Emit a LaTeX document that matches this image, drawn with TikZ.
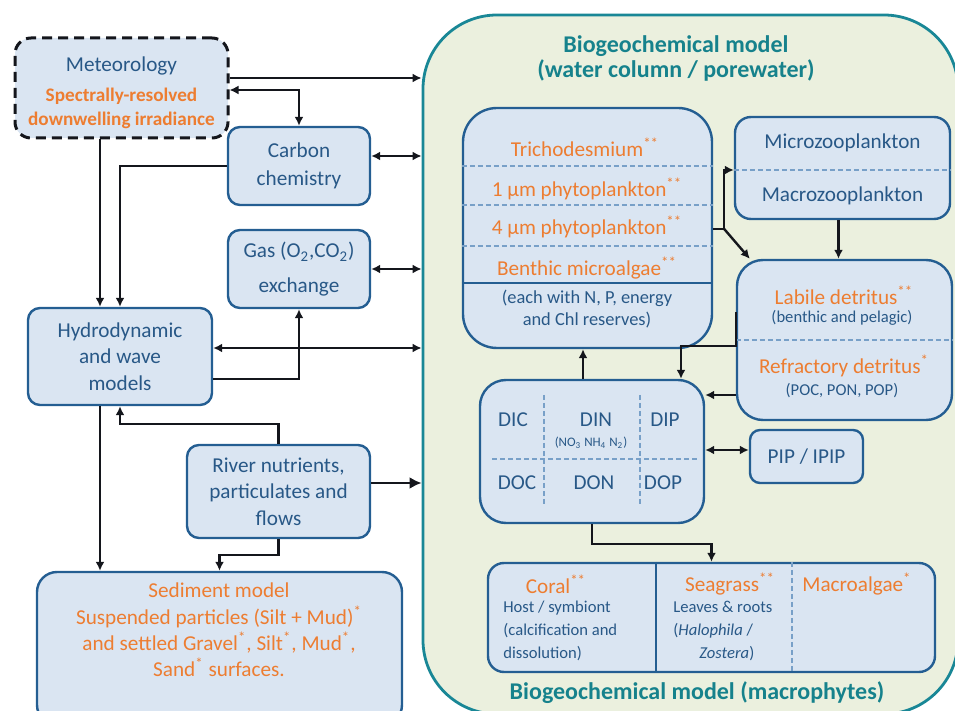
\documentclass[tikz,border=0pt]{standalone}
\usepackage{fontspec}
\setmainfont{Carlito}
\usepackage{tikz}
\usetikzlibrary{arrows.meta,positioning,calc}
\definecolor{ink}{RGB}{20,22,28}
\definecolor{bline}{RGB}{36,94,146}
\definecolor{cell}{RGB}{218,229,242}
\definecolor{txt}{RGB}{40,88,135}
\definecolor{org}{RGB}{237,125,49}
\definecolor{tealedge}{RGB}{25,135,150}
\definecolor{tealtxt}{RGB}{22,130,140}
\definecolor{bgfill}{RGB}{235,240,222}
\definecolor{sep}{RGB}{120,160,200}
\newcommand{\sstar}[1]{\textsuperscript{#1}}

\begin{document}
\begin{tikzpicture}[x=0.5pt,y=-0.5pt,font=\fontsize{10.6}{13.2}\selectfont,
 box/.style={draw=bline,line width=1.2pt,fill=cell,rounded corners=6pt,align=center,text=txt,inner sep=1pt},
 dashbox/.style={draw=ink,line width=1.5pt,dash pattern=on 5pt off 3pt,fill=cell,rounded corners=8pt,align=center,text=txt,inner sep=1pt},
 cont/.style={draw=tealedge,line width=1.4pt,fill=bgfill,rounded corners=37pt},
 ttl/.style={text=tealtxt,font=\fontsize{12}{12.5}\selectfont\bfseries,align=center},
 lbl/.style={text=txt,inner sep=0pt},
 hot/.style={text=org,inner sep=0pt},
 sml/.style={text=txt,font=\fontsize{8.3}{11.5}\selectfont,inner sep=0pt},
 sepl/.style={draw=sep,line width=0.6pt,dash pattern=on 2.5pt off 1.5pt},
 arr/.style={draw=ink,line width=1.2pt,-{Latex[length=4.5pt,width=4.5pt]}},
 arr2/.style={draw=ink,line width=1.2pt,{Latex[length=4.5pt,width=4.5pt]}-{Latex[length=4.5pt,width=4.5pt]}}]
 \useasboundingbox (0,0) rectangle (955,711);
 \clip (0,0) rectangle (955,711);

 % biogeochemical container
 \node[cont,minimum width=267.5pt,minimum height=349.5pt] (bgc) at (690.5,364.5) {};
 \node[ttl] (bgctop) at (676,58) {Biogeochemical model\\(water column / porewater)};
 \node[ttl] (bgcbot) at (697,693) {Biogeochemical model (macrophytes)};

 % forcing side
 \node[dashbox,minimum width=106.5pt,minimum height=50pt] (met) at (121.5,88) {};
 \node[lbl,align=center,font=\fontsize{10.6}{12}\selectfont] (mettxt) at (121.5,93)
   {Meteorology\\[3pt]\textcolor{org}{\fontsize{9.6}{12}\selectfont\bfseries Spectrally-resolved}\\\textcolor{org}{\fontsize{9.6}{12}\selectfont\bfseries downwelling irradiance}};
 \node[box,minimum width=71pt,minimum height=39pt] (cc) at (299,166) {Carbon\\[1pt]chemistry};
 \node[box,minimum width=71pt,minimum height=39pt] (gas) at (299,269) {Gas (O\textsubscript{2},CO\textsubscript{2})\\[4pt]exchange};
 \node[box,minimum width=92pt,minimum height=48.5pt] (hyd) at (120,356.5) {Hydrodynamic\\and wave\\models};
 \node[box,minimum width=91.5pt,minimum height=46.5pt] (riv) at (278.5,491.5) {River nutrients,\\particulates and\\flows};
 \node[box,rounded corners=10pt,minimum width=182.5pt,minimum height=76.5pt] (sed) at (219.5,648.5) {};
 \node[hot,align=center] (sedtxt) at (219,630) {Sediment model\\Suspended particles (Silt + Mud)\sstar{*}\\and settled Gravel\sstar{*}, Silt\sstar{*}, Mud\sstar{*},\\Sand\sstar{*} surfaces.};

 % phytoplankton
 \node[box,rounded corners=17pt,minimum width=124.5pt,minimum height=120pt] (phy) at (587.5,228) {};
 \foreach \y in {166,205,246} \draw[sepl] (phy.west |- 0,\y) -- (phy.east |- 0,\y);
 \draw[bline,line width=1.2pt] (phy.west |- 0,283) -- (phy.east |- 0,283);
 \node[hot] (tri) at (585,147) {Trichodesmium\sstar{**}};
 \node[hot] (p1) at (587,189) {1 µm phytoplankton\sstar{**}};
 \node[hot] (p4) at (587,227) {4 µm phytoplankton\sstar{**}};
 \node[hot] (bma) at (587,268) {Benthic microalgae\sstar{**}};
 \node[lbl,align=center,font=\fontsize{9.2}{11}\selectfont] (res) at (587,309) {(each with N, P, energy\\and Chl reserves)};

 % zooplankton and detritus
 \node[box,rounded corners=8pt,minimum width=107.5pt,minimum height=51pt] (zoo) at (842.5,168) {};
 \draw[sepl] (zoo.west |- 0,170) -- (zoo.east |- 0,170);
 \node[lbl] (mic) at (842.5,143) {Microzooplankton};
 \node[lbl] (mcz) at (842.5,196) {Macrozooplankton};
 \node[box,rounded corners=13pt,minimum width=107.5pt,minimum height=80pt] (det) at (844.5,340) {};
 \draw[sepl] (det.west |- 0,340) -- (det.east |- 0,340);
 \node[hot] (lab) at (844,295) {Labile detritus\sstar{**}};
 \node[sml] (labs) at (842,318) {(benthic and pelagic)};
 \node[hot] (ref) at (844,366) {Refractory detritus\sstar{*}};
 \node[sml] (refs) at (842,391) {(POC, PON, POP)};

 % dissolved pools
 \node[box,rounded corners=13pt,minimum width=112pt,minimum height=71.5pt] (dic) at (592,451.5) {};
 \draw[sepl] (544,395) -- (544,507); \draw[sepl] (640,395) -- (640,507); \draw[sepl] (492,459) -- (700,459);
 \foreach \x/\y/\t in {513/420/DIC,596/420/DIN,665/420/DIP,517/483/DOC,594/483/DON,663/483/DOP}
   \node[lbl] (\t) at (\x,\y) {\t};
 \node[lbl,font=\fontsize{6.5}{7}\selectfont] (dins) at (591,443) {(NO\textsubscript{3} NH\textsubscript{4} N\textsubscript{2})};
 \node[box,rounded corners=5pt,minimum width=56.5pt,minimum height=26.5pt] (pip) at (806.5,456.5) {PIP / IPIP};

 % macrophytes
 \node[box,rounded corners=8pt,minimum width=223.5pt,minimum height=54.5pt] (mph) at (711.5,617.5) {};
 \draw[bline,line width=1.2pt] (656,0 |- mph.north) -- (656,0 |- mph.south);
 \draw[sepl] (792,0 |- mph.north) -- (792,0 |- mph.south);
 \node[hot] (cor) at (556,584) {Coral\sstar{**}};
 \node[sml,align=left,anchor=west] (corx) at (503,631) {Host / symbiont\\(calcification and\\dissolution)};
 \node[hot] (sea) at (730,584) {Seagrass\sstar{**}};
 \node[sml,align=left,anchor=west] (seax) at (673,631) {Leaves \& roots\\(\textit{Halophila} /\\\hspace*{13pt}\textit{Zostera})};
 \node[hot] (alg) at (857,584) {Macroalgae\sstar{*}};

 % links outside
 \draw[arr] ([yshift=5pt]met.east) -- ([yshift=5pt]met.east -| bgc.west);
 \draw[arr2] ([yshift=-1pt]met.east) -| (cc.north);
 \draw[arr2] ([yshift=5pt]cc.east) -- ([yshift=5pt]cc.east -| bgc.west);
 \draw[arr2] (gas.east) -- (gas.east -| bgc.west);
 \draw[arr] ([xshift=-10pt]hyd.north |- met.south) -- ([xshift=-10pt]hyd.north);
 \draw[arr] (cc.west) -| (hyd.north);
 \draw[arr2] ([yshift=4.25pt]hyd.east) -- ([yshift=4.25pt]hyd.east -| bgc.west);
 \draw[arr] ([yshift=-11.25pt]hyd.east) -| (gas.south);
 \draw[arr] (riv.north) -- ++(0pt,10pt) -| (hyd.south);
 \draw[arr,-{Latex[length=6pt,width=6pt]}] ([yshift=4.25pt]riv.east) -- ([yshift=4.25pt]riv.east -| bgc.west);
 \draw[arr] (riv.south) -- ++(0pt,-8pt) -| (sed.north);
 \draw[arr] ([xshift=-10pt]hyd.south) -- ([xshift=-10pt]hyd.south |- sed.north);

 % links inside
 \coordinate (pz) at ([xshift=5.5pt,yshift=-0.5pt]phy.east);
 \draw[ink,line width=1.2pt] ([yshift=-0.5pt]phy.east) -- (pz);
 \draw[arr] (pz) |- ([yshift=-1pt]zoo.west);
 \draw[arr] (pz) -- ([xshift=7pt]det.north west);
 \draw[arr] ([xshift=-2pt]zoo.south) -- ([xshift=-2pt]zoo.south |- det.north);
 \draw[arr] ([yshift=14pt]det.west) -- ([yshift=-3pt]det.west) -| ([xshift=44.5pt]dic.north);
 \draw[arr] ([yshift=-27.5pt]det.west) -- ([yshift=-27.5pt]det.west -| dic.east);
 \draw[arr] ([xshift=-4.5pt]dic.north) -- ([xshift=-4.5pt]dic.north |- phy.south);
 \draw[arr2] ([yshift=3.25pt]pip.west -| dic.east) -- ([yshift=3.25pt]pip.west);
 \draw[arr] (dic.south) -- ++(0pt,-10pt) -| (mph.north);
\end{tikzpicture}
\end{document}
